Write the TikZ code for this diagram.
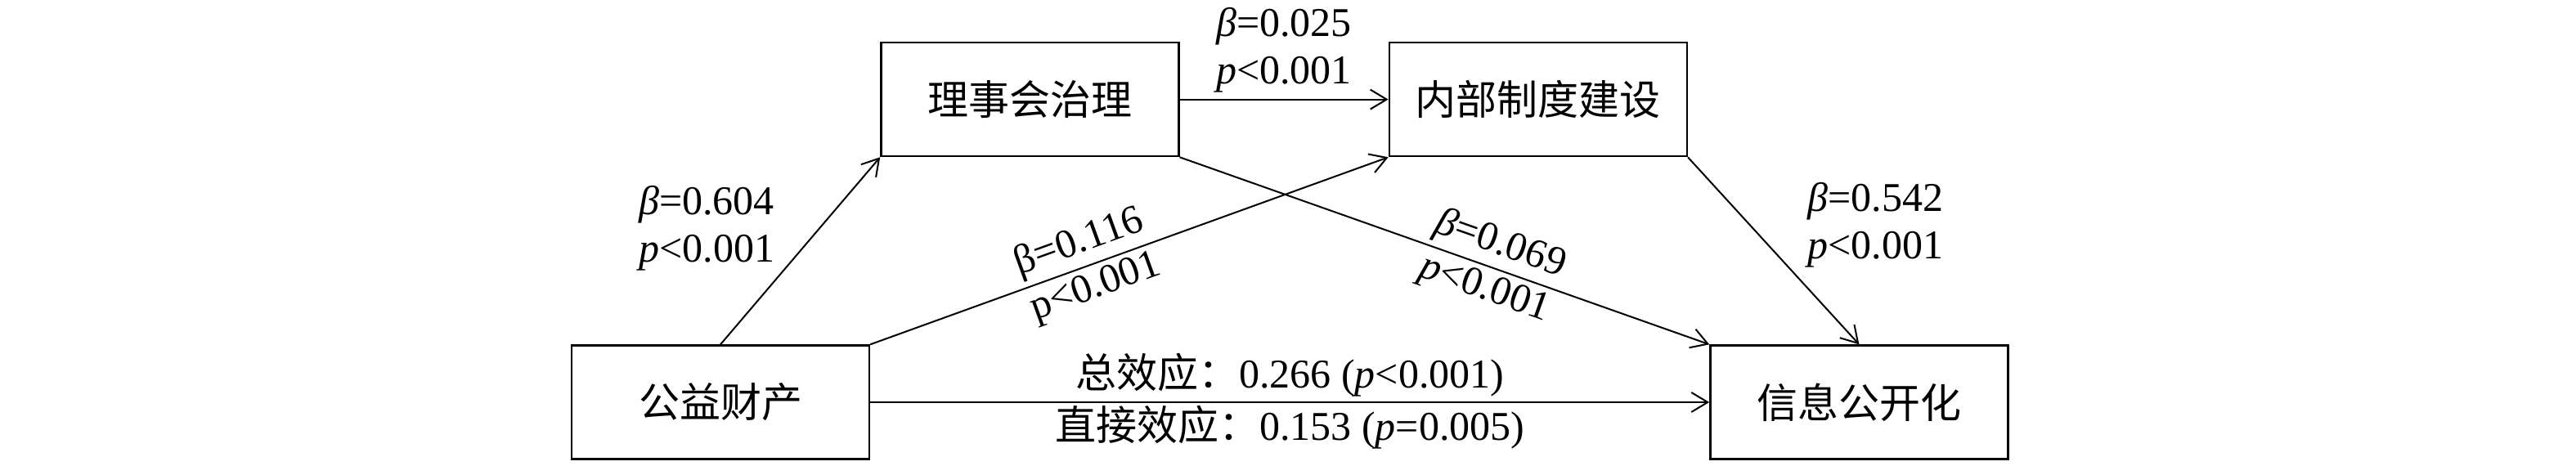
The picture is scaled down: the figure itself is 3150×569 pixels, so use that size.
\documentclass[tikz,border=0pt]{standalone}
\usepackage{fontspec}
\setmainfont{Liberation Serif}
\newfontfamily\cjk{Noto Sans CJK SC}
\usepackage{tikz}
\usetikzlibrary{positioning,arrows.meta}
\newcommand\labfont{\fontsize{25}{29}\selectfont}

\begin{document}
\begin{tikzpicture}[
  x=0.5pt, y=0.5pt, font=\labfont, node distance=6pt,
  box/.style={draw, line width=1.2pt, inner sep=0pt, minimum width=182pt, minimum height=69.5pt, font=\labfont\cjk},
  lab/.style={align=left, inner sep=2pt},
  arr/.style={-{Straight Barb[length=10pt,width=12pt]}, line width=1pt}]
  \useasboundingbox (0,0) rectangle (3150,-569);
  \node[box] (asset) at (881,-492) {公益财产};
  \node[box, right=513pt of asset] (disclose) {信息公开化};
  \node[box, above right=114.5pt and 6pt of asset] (board) {理事会治理};
  \node[box, right=127.5pt of board] (rules) {内部制度建设};
  % paths with coefficients
  \draw[arr] (asset.north) -- (board.south west)
    node[lab, pos=0.62, left=25pt] (c1) {\textit{β}=0.604\\\textit{p}<0.001};
  \draw[arr] (board.east) -- (rules.west)
    node[lab, midway, above=1.5pt] (c2) {\textit{β}=0.025\\\textit{p}<0.001};
  \draw[arr] (asset.north east) -- (rules.south west)
    node[pos=0.42, sloped, above, inner sep=3pt] (c3) {β=0.116}
    node[pos=0.42, sloped, below, inner sep=3pt] (c3p) {p<0.001};
  \draw[arr] (board.south east) -- (disclose.north west)
    node[pos=0.59, sloped, above, inner sep=3pt] (c4) {\textit{β}=0.069}
    node[pos=0.59, sloped, below, inner sep=3pt] (c4p) {\textit{p}<0.001};
  \draw[arr] (rules.south east) -- (disclose.north)
    node[lab, pos=0.36, right=33pt] (c5) {\textit{β}=0.542\\\textit{p}<0.001};
  \draw[arr] (asset.east) -- (disclose.west)
    node[midway, above, inner sep=3pt] (tot) {{\cjk 总效应：}0.266 (\textit{p}<0.001)}
    node[midway, below, inner sep=1.5pt] (dir) {{\cjk 直接效应：}0.153 (\textit{p}=0.005)};
\end{tikzpicture}
\end{document}
